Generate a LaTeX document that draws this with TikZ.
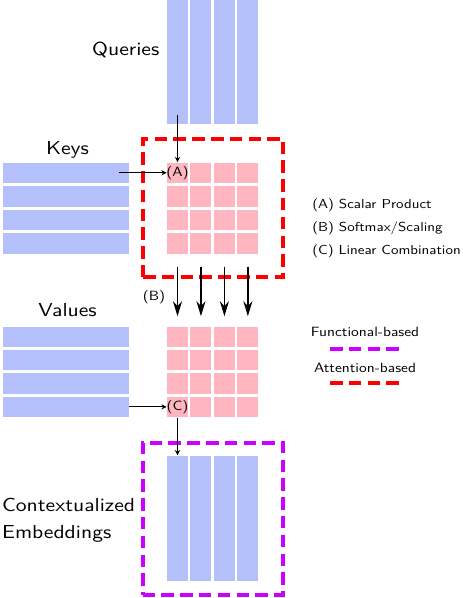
\documentclass[tikz,border=0pt]{standalone}
\usepackage{fontspec}
\setsansfont{lmsans10-regular.otf}[FakeStretch=1.15]
\usetikzlibrary{arrows.meta}
\definecolor{colblue}{RGB}{180,192,250}
\definecolor{cellpink}{RGB}{255,182,193}
\definecolor{boxred}{RGB}{255,0,0}
\definecolor{boxmag}{RGB}{204,0,255}
\begin{document}
\begin{tikzpicture}[x=0.5pt,y=-0.5pt, font=\sffamily,
  vcol/.style={fill=colblue, draw=none, inner sep=0, minimum width=10.5pt, minimum height=62pt},
  hrow/.style={fill=colblue, draw=none, inner sep=0, minimum width=62.85pt, minimum height=10.25pt},
  cell/.style={fill=cellpink, draw=none, inner sep=0, minimum width=10.5pt, minimum height=10.25pt},
  smalltext/.style={font=\sffamily\fontsize{6.7}{7}\selectfont, inner sep=0},
  biglabel/.style={font=\sffamily\fontsize{9.4}{13.3}\selectfont, inner sep=0},
  legtext/.style={font=\sffamily\fontsize{6.5}{7}\selectfont, inner sep=0, anchor=base west},
  attbox/.style={draw=boxred, line width=2pt, dash pattern=on 6.25pt off 3.15pt},
  funbox/.style={draw=boxmag, line width=2pt, dash pattern=on 6.25pt off 3.15pt},
  thinarrow/.style={draw=black, line width=0.5pt, -{Stealth[length=2.6pt,width=2.6pt]}},
  thickarrow/.style={draw=black, line width=0.9pt, -{Stealth[length=7.5pt,width=4.5pt]}},
]
\useasboundingbox (0,0) rectangle (462,598);

% dashed frames
\node[attbox, minimum width=70.15pt, minimum height=69.15pt, inner sep=0] (attn) at (213.15,207.85) {};
\node[funbox, minimum width=70.25pt, minimum height=76.1pt, inner sep=0] (func) at (212.75,518.6) {};

% columns, rows and cells
\foreach \i in {1,...,4}{
  \pgfmathsetmacro\cx{177.5+23.45*(\i-1)}
  \node[vcol] (q\i) at (\cx,62) {};
  \node[vcol, minimum height=62.65pt] (e\i) at (\cx,518.3) {};
  \foreach \j in {1,...,4}{
    \pgfmathsetmacro\cya{172.8+23.5*(\j-1)}
    \pgfmathsetmacro\cyb{336.9+23.33*(\j-1)}
    \node[cell] (a\j\i) at (\cx,\cya) {};
    \node[cell] (b\j\i) at (\cx,\cyb) {};
  }
}
\foreach \j in {1,...,4}{
  \pgfmathsetmacro\cya{172.8+23.5*(\j-1)}
  \pgfmathsetmacro\cyb{336.9+23.33*(\j-1)}
  \node[hrow] (k\j) at (65.85,\cya) {};
  \node[hrow] (v\j) at (65.85,\cyb) {};
}

% cell labels
\node[smalltext] (lblA) at (a11) {(A)};
\node[smalltext] (lblC) at (b41) {(C)};
\node[smalltext] (lblB) at (154,297) {(B)};

% arrows
\draw[thinarrow] ([yshift=4.5pt]q1.south) -- (a11.north);
\draw[thinarrow] ([xshift=-4.85pt]k1.east) -- (a11.west);
\foreach \i in {1,...,4}{
  \draw[thickarrow] ([yshift=-6.35pt]a4\i.south) -- ([yshift=5pt]b1\i.north);
}
\draw[thinarrow] (v4.east) -- (b41.west);
\draw[thinarrow] (b41.south) -- (e1.north);

% labels
\node[biglabel, anchor=base] (lq) at (125.8,56) {Queries};
\node[biglabel, anchor=base] (lk) at (67.5,154.3) {Keys};
\node[biglabel, anchor=base] (lv) at (67.5,316.7) {Values};
\node[biglabel, align=left, anchor=base west] (lc) at (1.7,538) {Contextualized\\Embeddings};

% legend
\node[legtext] (legA) at (312,208.3) {(A) Scalar Product};
\node[legtext] (legB) at (312,231.6) {(B) Softmax/Scaling};
\node[legtext] (legC) at (312,255) {(C) Linear Combination};
\node[smalltext, anchor=base] (legF) at (365,336.7) {Functional-based};
\coordinate (f1) at (330,349.3);
\coordinate (f2) at (399,349.3);
\draw[funbox] (f1) -- (f2);
\node[smalltext, anchor=base] (legT) at (365,372.7) {Attention-based};
\coordinate (t1) at (330,383.3);
\coordinate (t2) at (399,383.3);
\draw[attbox] (t1) -- (t2);
\end{tikzpicture}
\end{document}
